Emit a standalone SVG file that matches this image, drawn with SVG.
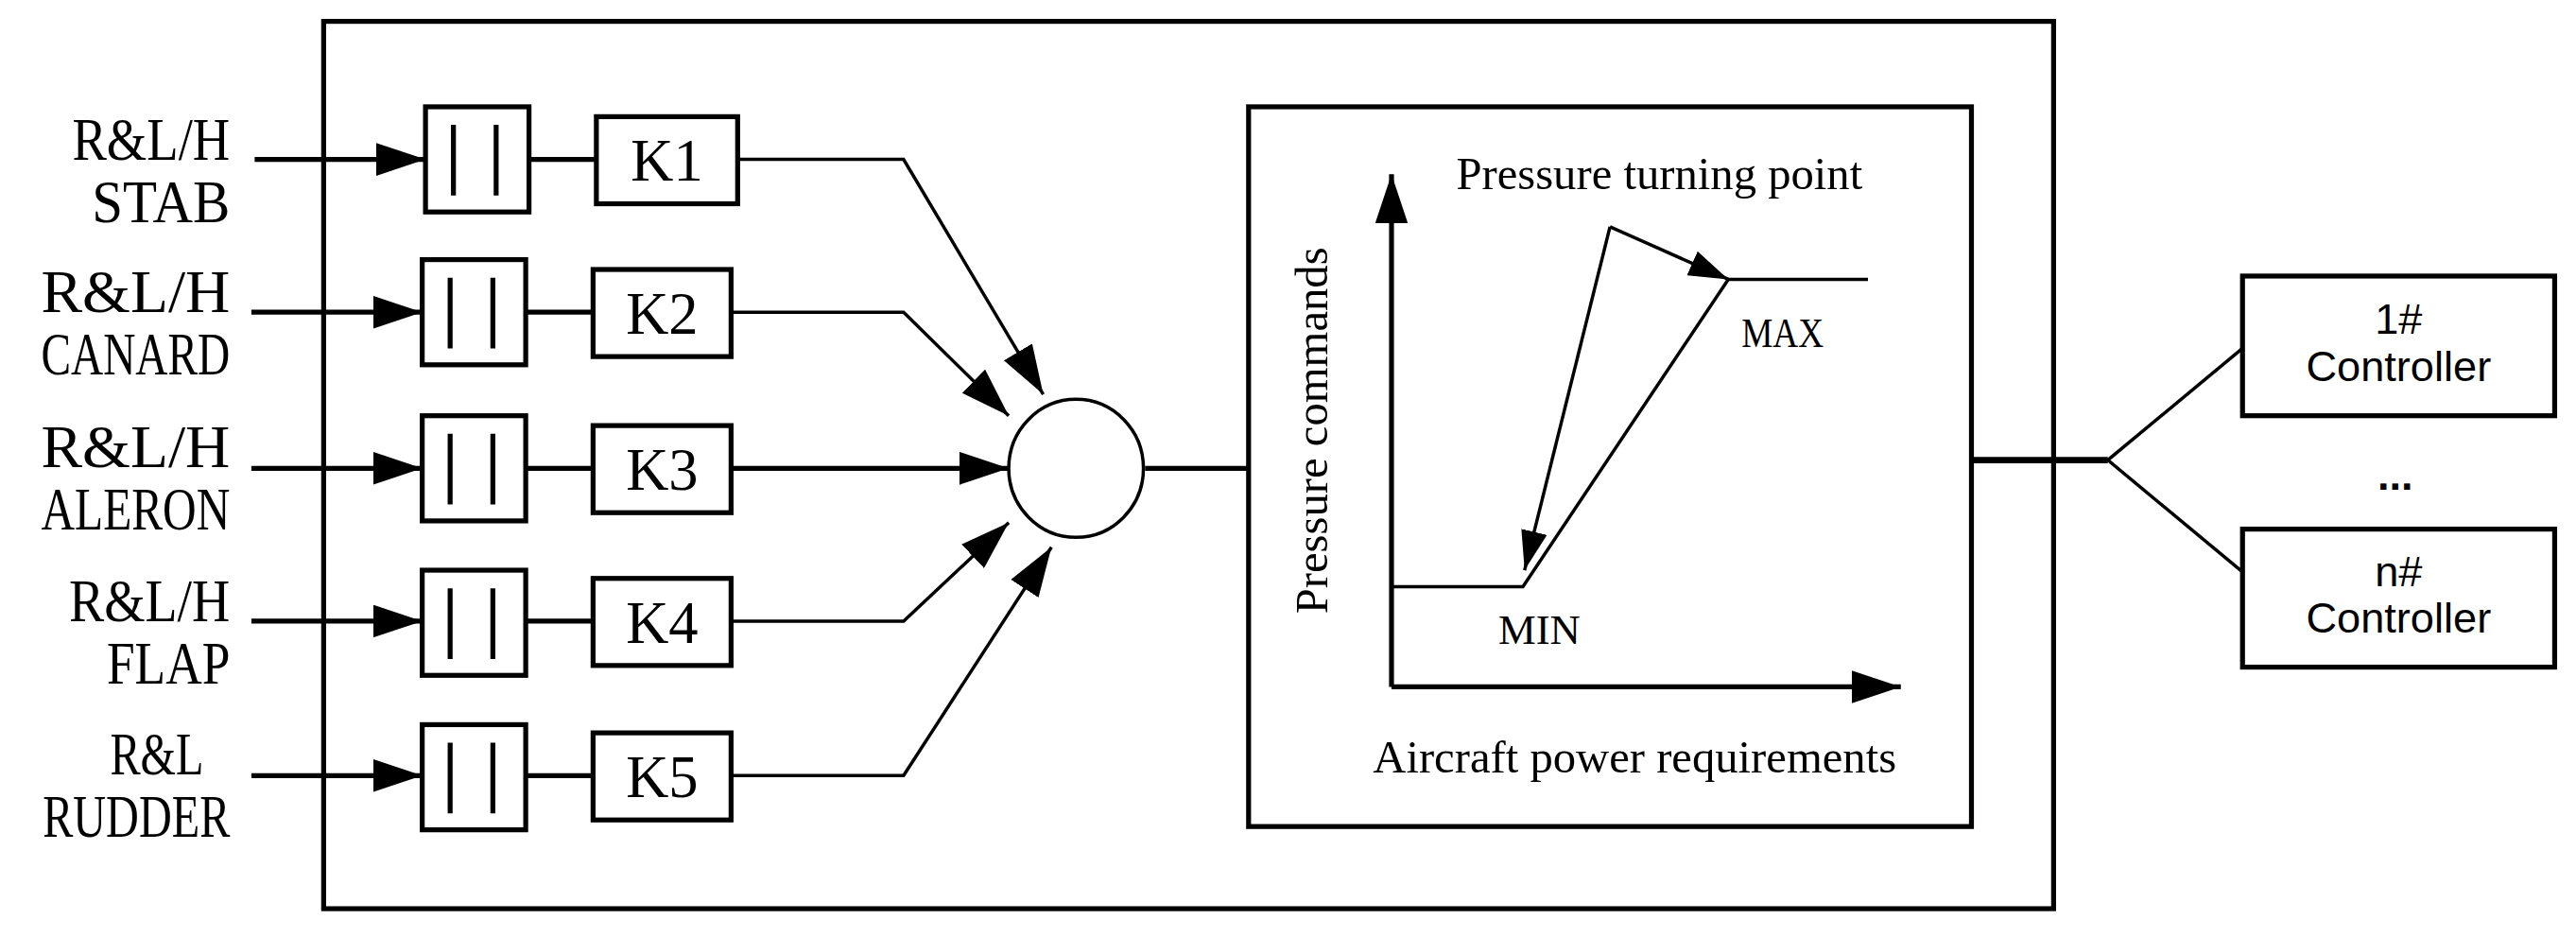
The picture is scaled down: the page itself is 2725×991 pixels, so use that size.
<svg xmlns="http://www.w3.org/2000/svg" width="2725" height="991" viewBox="0 0 2725 991">
<defs>
<marker id="ah" viewBox="0 0 10 10" refX="10" refY="5" markerWidth="30" markerHeight="20" markerUnits="userSpaceOnUse" orient="auto" preserveAspectRatio="none"><path d="M0,0 L10,5 L0,10 z" fill="#000"/></marker>
<marker id="ahb" viewBox="0 0 10 10" refX="10" refY="5" markerWidth="24" markerHeight="16" markerUnits="userSpaceOnUse" orient="auto" preserveAspectRatio="none"><path d="M0,0 L10,5 L0,10 z" fill="#000"/></marker>
<style>
.b{fill:#fff;stroke:#000;stroke-width:3}
.l{fill:none;stroke:#000;stroke-width:2}
.t{font-family:"Liberation Serif",serif;fill:#000}
.lab{font-size:36px;text-anchor:end}
.k{font-size:36px;text-anchor:middle}
.c{font-size:28px}
.s{font-family:"Liberation Sans",sans-serif;font-size:26px;text-anchor:middle}
</style>
</defs>
<rect width="2725" height="991" fill="#fff"/>
<g transform="scale(1.7379)">
<g id="outer"><rect x="197" y="13" width="1053" height="540" class="b" style="fill:none"/></g>
<g id="labels" class="t lab">
<text x="140" y="97" textLength="96" lengthAdjust="spacingAndGlyphs">R&amp;L/H</text><text x="140" y="135" textLength="84" lengthAdjust="spacingAndGlyphs">STAB</text>
<text x="140" y="190" textLength="115" lengthAdjust="spacingAndGlyphs">R&amp;L/H</text><text x="140" y="228" textLength="115" lengthAdjust="spacingAndGlyphs">CANARD</text>
<text x="140" y="284" textLength="115" lengthAdjust="spacingAndGlyphs">R&amp;L/H</text><text x="140" y="322" textLength="115" lengthAdjust="spacingAndGlyphs">ALERON</text>
<text x="140" y="378" textLength="98" lengthAdjust="spacingAndGlyphs">R&amp;L/H</text><text x="140" y="416" textLength="75" lengthAdjust="spacingAndGlyphs">FLAP</text>
<text x="124" y="471" textLength="57" lengthAdjust="spacingAndGlyphs">R&amp;L</text><text x="140" y="509" textLength="114" lengthAdjust="spacingAndGlyphs">RUDDER</text>
</g>
<g id="filter1"><rect x="259" y="65" width="63" height="64" class="b"/><path d="M276,76v43M302,76v43" class="l" style="stroke-width:3"/></g>
<g id="filter2"><rect x="257" y="158" width="63" height="64" class="b"/><path d="M274,169v43M300,169v43" class="l" style="stroke-width:3"/></g>
<g id="filter3"><rect x="257" y="253" width="63" height="64" class="b"/><path d="M274,264v43M300,264v43" class="l" style="stroke-width:3"/></g>
<g id="filter4"><rect x="257" y="347" width="63" height="64" class="b"/><path d="M274,358v43M300,358v43" class="l" style="stroke-width:3"/></g>
<g id="filter5"><rect x="257" y="441" width="63" height="64" class="b"/><path d="M274,452v43M300,452v43" class="l" style="stroke-width:3"/></g>
<g id="k1"><rect x="363" y="71" width="86" height="53" class="b"/><text x="406" y="110" class="t k">K1</text></g>
<g id="k2"><rect x="361" y="164" width="84" height="53" class="b"/><text x="403" y="203" class="t k">K2</text></g>
<g id="k3"><rect x="361" y="259" width="84" height="53" class="b"/><text x="403" y="298" class="t k">K3</text></g>
<g id="k4"><rect x="361" y="352" width="84" height="53" class="b"/><text x="403" y="391" class="t k">K4</text></g>
<g id="k5"><rect x="361" y="446" width="84" height="53" class="b"/><text x="403" y="485" class="t k">K5</text></g>
<g id="sum"><ellipse cx="655" cy="285" rx="41" ry="42" fill="#fff" stroke="#000" stroke-width="2"/></g>
<g id="chart">
<rect x="760" y="65" width="440" height="438" class="b"/>
<path d="M847,418V106" class="l" marker-end="url(#ah)" style="stroke-width:3"/>
<path d="M847,418H1157" class="l" marker-end="url(#ah)" style="stroke-width:3"/>
<path d="M847,357H927L1052,170H1137" class="l"/>
<path d="M980,138L1052,170" class="l" marker-end="url(#ahb)"/>
<path d="M980,138L928,347" class="l" marker-end="url(#ahb)"/>
<text x="1010" y="115" class="t c" text-anchor="middle">Pressure turning point</text>
<text x="1085" y="211" class="t" font-size="26" text-anchor="middle" textLength="50" lengthAdjust="spacingAndGlyphs">MAX</text>
<text x="937" y="392" class="t" font-size="26" text-anchor="middle" textLength="50" lengthAdjust="spacingAndGlyphs">MIN</text>
<text transform="translate(808,262) rotate(-90)" class="t c" text-anchor="middle">Pressure commands</text>
<text x="995" y="470" class="t c" text-anchor="middle">Aircraft power requirements</text>
</g>
<g id="ctrl1"><rect x="1365" y="168" width="190" height="85" class="b"/><text x="1460" y="203" class="s">1#</text><text x="1460" y="232" class="s">Controller</text></g>
<g id="dots"><text x="1458" y="298" class="s" font-weight="bold">...</text></g>
<g id="ctrln"><rect x="1365" y="322" width="190" height="84" class="b"/><text x="1460" y="357" class="s">n#</text><text x="1460" y="385" class="s">Controller</text></g>
<g id="connectors" fill="none" stroke="#000">
<g stroke-width="3" marker-end="url(#ah)">
<path d="M155,97H259"/><path d="M153,190H257"/><path d="M153,285H257"/><path d="M153,378H257"/><path d="M153,472H257"/>
</g>
<g stroke-width="3"><path d="M322,97H363M320,190H361M320,285H361M320,378H361M320,472H361"/></g>
<g stroke-width="2" marker-end="url(#ah)">
<path d="M449,97H550L635,240"/><path d="M445,190H550L614,253"/><path d="M445,285H614" stroke-width="3"/><path d="M445,378H550L614,318"/><path d="M445,472H550L640,333"/>
</g>
<path d="M697,285H760" stroke-width="3"/>
<path d="M1200,280H1283" stroke-width="4"/>
<path d="M1365,212L1283,280L1365,348" stroke-width="2"/>
</g>
</g>
</svg>
